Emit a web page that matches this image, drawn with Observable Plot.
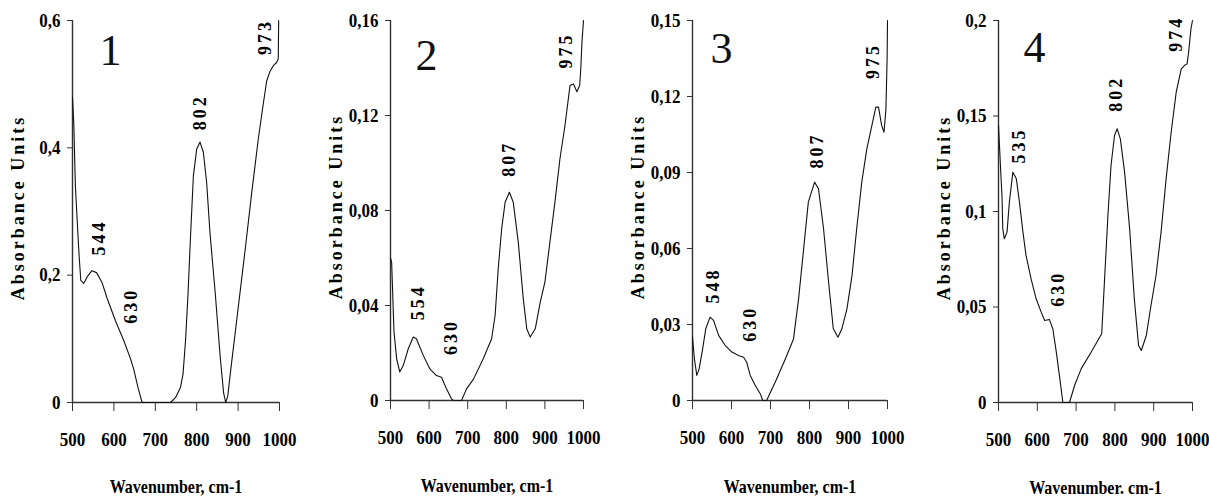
<!DOCTYPE html>
<html><head><meta charset="utf-8">
<script src="https://cdn.jsdelivr.net/npm/d3@7"></script>
<script src="https://cdn.jsdelivr.net/npm/@observablehq/plot@0.6"></script>
<style>
body{margin:0;background:#fff;}
#wrap{position:relative;width:1209px;height:497px;overflow:hidden;background:#fff;}
.panel{position:absolute;top:0;}
</style></head><body><div id="wrap"></div>
<script>
// ---- shared x axis ----
const xTicks = [500, 600, 700, 800, 900, 1000];
const xTickLabels = ["500", "600", "700", "800", "900", "1000"];
const yTitle = "Absorbance Units";

// ---- panel 1 ----
const wn1 = [500, 503, 507, 513, 516, 520, 527, 537, 547, 558, 571, 584, 604, 624, 640, 648, 658, 668, 700, 737, 749, 761, 767, 773, 779, 785, 792, 800, 808, 816, 824, 832, 845, 857, 865, 870, 875, 882, 894, 906, 918, 933, 949, 961, 969, 977, 985, 993, 997, 998];
const ab1 = [0.48, 0.44, 0.34, 0.265, 0.23, 0.192, 0.187, 0.199, 0.207, 0.204, 0.189, 0.163, 0.128, 0.097, 0.069, 0.052, 0.024, 0, 0, 0, 0.008, 0.024, 0.045, 0.097, 0.17, 0.26, 0.356, 0.398, 0.409, 0.393, 0.346, 0.267, 0.17, 0.07, 0.015, 0, 0.01, 0.05, 0.115, 0.18, 0.245, 0.33, 0.415, 0.47, 0.505, 0.52, 0.529, 0.534, 0.54, 0.6];
const yTicks1 = [0, 0.2, 0.4, 0.6];
const yTickLabels1 = ["0", "0,2", "0,4", "0,6"];
const peakText1 = ["544", "630", "802", "973"];
const peakX1 = [564, 643, 808, 965];
const peakY1 = [0.259, 0.152, 0.456, 0.574];
const xTitle1 = "Wavenumber, cm-1";

// ---- panel 2 ----
const wn2 = [500, 503, 509, 516, 524, 533, 546, 559, 567, 585, 602, 619, 632, 645, 658, 663, 684, 697, 715, 740, 762, 771, 779, 788, 797, 808, 818, 831, 844, 853, 862, 875, 888, 900, 913, 926, 939, 952, 965, 974, 983, 990, 993, 996, 1000];
const ab2 = [0.06, 0.058, 0.029, 0.0175, 0.012, 0.0147, 0.0218, 0.0267, 0.026, 0.019, 0.0133, 0.0105, 0.0098, 0.0049, 0.0007, 0, 0, 0.0049, 0.009, 0.0175, 0.026, 0.0358, 0.0554, 0.0723, 0.0835, 0.0877, 0.0835, 0.0667, 0.0428, 0.0302, 0.0267, 0.0302, 0.0414, 0.0498, 0.0667, 0.0835, 0.1018, 0.1158, 0.1326, 0.1333, 0.130, 0.1326, 0.1396, 0.1509, 0.16];
const yTicks2 = [0, 0.04, 0.08, 0.12, 0.16];
const yTickLabels2 = ["0", "0,04", "0,08", "0,12", "0,16"];
const peakText2 = ["554", "630", "807", "975"];
const peakX2 = [572, 658, 807.5, 956];
const peakY2 = [0.0414, 0.0267, 0.1018, 0.1474];
const xTitle2 = "Wavenumber, cm-1";

// ---- panel 3 ----
const wn3 = [500, 505, 511, 517, 526, 534, 545, 554, 567, 584, 601, 618, 631, 639, 648, 661, 674, 680, 690, 712, 738, 759, 772, 785, 797, 813, 823, 836, 849, 861, 873, 883, 896, 909, 921, 934, 947, 960, 970, 977, 985, 991, 996, 999, 1000];
const ab3 = [0.025, 0.0164, 0.0099, 0.0125, 0.0204, 0.0283, 0.0329, 0.0316, 0.0257, 0.0217, 0.0191, 0.0178, 0.0171, 0.0151, 0.0099, 0.0059, 0.0026, 0, 0, 0.0072, 0.0164, 0.0243, 0.0401, 0.0599, 0.0783, 0.0862, 0.0836, 0.0678, 0.0467, 0.0283, 0.025, 0.0283, 0.0362, 0.0493, 0.0678, 0.0862, 0.0993, 0.1086, 0.1158, 0.1158, 0.1086, 0.1059, 0.1151, 0.135, 0.15];
const yTicks3 = [0, 0.03, 0.06, 0.09, 0.12, 0.15];
const yTickLabels3 = ["0", "0,03", "0,06", "0,09", "0,12", "0,15"];
const peakText3 = ["548", "630", "807", "975"];
const peakX3 = [554, 648, 819, 964];
const peakY3 = [0.0454, 0.0303, 0.0987, 0.134];
const xTitle3 = "Wavenumber, cm-1";

// ---- panel 4 ----
const wn4 = [500, 505, 509, 511, 515, 522, 528, 537, 546, 554, 563, 571, 584, 597, 610, 619, 631, 640, 649, 657, 666, 683, 696, 713, 739, 766, 773, 782, 790, 799, 806, 814, 825, 838, 850, 861, 868, 881, 893, 906, 919, 932, 945, 958, 971, 979, 986, 990, 996, 1000];
const ab4 = [0.145, 0.124, 0.108, 0.091, 0.0857, 0.0892, 0.1049, 0.1206, 0.1171, 0.1049, 0.0892, 0.077, 0.0647, 0.0543, 0.0473, 0.0429, 0.0435, 0.0386, 0.0264, 0.0141, 0, 0, 0.0089, 0.0176, 0.0264, 0.036, 0.063, 0.0979, 0.1241, 0.1398, 0.1433, 0.138, 0.1206, 0.0909, 0.0543, 0.0298, 0.0272, 0.0351, 0.0508, 0.0665, 0.0892, 0.1171, 0.1415, 0.1625, 0.1747, 0.1764, 0.1773, 0.1834, 0.1956, 0.2];
const yTicks4 = [0, 0.05, 0.1, 0.15, 0.2];
const yTickLabels4 = ["0", "0,05", "0,1", "0,15", "0,2"];
const peakText4 = ["535", "630", "802", "974"];
const peakX4 = [554, 653, 803, 958];
const peakY4 = [0.1346, 0.0595, 0.1616, 0.193];
const xTitle4 = "Wavenumber. cm-1";

const panelNames = ["1", "2", "3", "4"];

// ---- assembled from the arrays above ----
const panels = [
  {name: panelNames[0], wn: wn1, ab: ab1, yTicks: yTicks1, yLabels: yTickLabels1, pText: peakText1, pX: peakX1, pY: peakY1, xTitle: xTitle1},
  {name: panelNames[1], wn: wn2, ab: ab2, yTicks: yTicks2, yLabels: yTickLabels2, pText: peakText2, pX: peakX2, pY: peakY2, xTitle: xTitle2},
  {name: panelNames[2], wn: wn3, ab: ab3, yTicks: yTicks3, yLabels: yTickLabels3, pText: peakText3, pX: peakX3, pY: peakY3, xTitle: xTitle3},
  {name: panelNames[3], wn: wn4, ab: ab4, yTicks: yTicks4, yLabels: yTickLabels4, pText: peakText4, pX: peakX4, pY: peakY4, xTitle: xTitle4}
];

// ---- layout (positions / sizes) ----
const layout = [
  {left: 0,   frame: 207, mR: 20, mB: 95, numDx: 38, numDy: 30, titleDy: 90},
  {left: 318, frame: 193, mR: 20, mB: 97, numDx: 36, numDy: 35, titleDy: 91},
  {left: 620, frame: 195, mR: 20, mB: 97, numDx: 29, numDy: 28, titleDy: 92},
  {left: 926, frame: 194, mR: 9,  mB: 95, numDx: 36, numDy: 27, titleDy: 91}
];

const wrap = document.getElementById("wrap");
const FONT = "'Liberation Serif', 'Times New Roman', serif";

panels.forEach((p, i) => {
  const L = layout[i];
  const mL = 72;
  const yMax = p.yTicks[p.yTicks.length - 1];
  const chart = Plot.plot({
    width: mL + L.frame + L.mR,
    height: 497,
    marginLeft: mL,
    marginRight: L.mR,
    marginTop: 20,
    marginBottom: L.mB,
    style: {fontFamily: FONT, fontSize: "17px", fontWeight: "bold", color: "#000", background: "transparent", overflow: "visible"},
    x: {domain: [500, 1000]},
    y: {domain: [0, yMax]},
    marks: [
      Plot.ruleX([500], {y1: 0, y2: yMax, stroke: "#333", strokeWidth: 1.4}),
      Plot.ruleY([0], {x1: 500, x2: 1000, stroke: "#333", strokeWidth: 1.4}),
      Plot.axisY({ticks: p.yTicks, tickSize: 5, tickPadding: 7, label: null,
        stroke: "#333", tickFormat: d => p.yLabels[p.yTicks.indexOf(d)]}),
      Plot.axisX({ticks: xTicks, tickSize: 9, tickPadding: 21, label: null,
        stroke: "#333", tickFormat: d => xTickLabels[xTicks.indexOf(d)]}),
      Plot.line(p.wn, {x: p.wn, y: p.ab, stroke: "#111", strokeWidth: 1.1}),
      Plot.text(p.pText, {x: p.pX, y: p.pY, text: d => d, rotate: -90, fontSize: 18,
        fontWeight: "bold", fill: "#000"}),
      Plot.text([p.name], {frameAnchor: "top-left", dx: L.numDx, dy: L.numDy, fontSize: 44,
        fontWeight: "normal", lineAnchor: "middle", textAnchor: "middle", fill: "#111"}),
      Plot.text([yTitle], {frameAnchor: "left", rotate: -90, dx: -61, dy: -4, lineAnchor: "top",
        textAnchor: "middle", fontSize: 18, fontWeight: "bold", fill: "#000"}),
      Plot.text([p.xTitle], {frameAnchor: "bottom", dy: L.titleDy, lineAnchor: "bottom",
        fontSize: 16, fontWeight: "bold", fill: "#000"})
    ]
  });
  // rotated labels are letter-spaced; upright bold labels are slightly tall in the original
  chart.querySelectorAll("text").forEach(t => {
    const tr = t.getAttribute("transform") || "";
    if (tr.includes("rotate")) t.style.letterSpacing = "3px";
    else if (t.textContent !== p.name && tr) t.setAttribute("transform", tr + " scale(1,1.12)");
  });
  const div = document.createElement("div");
  div.className = "panel";
  div.style.left = L.left + "px";
  div.appendChild(chart);
  wrap.appendChild(div);
});
</script>
</body></html>
